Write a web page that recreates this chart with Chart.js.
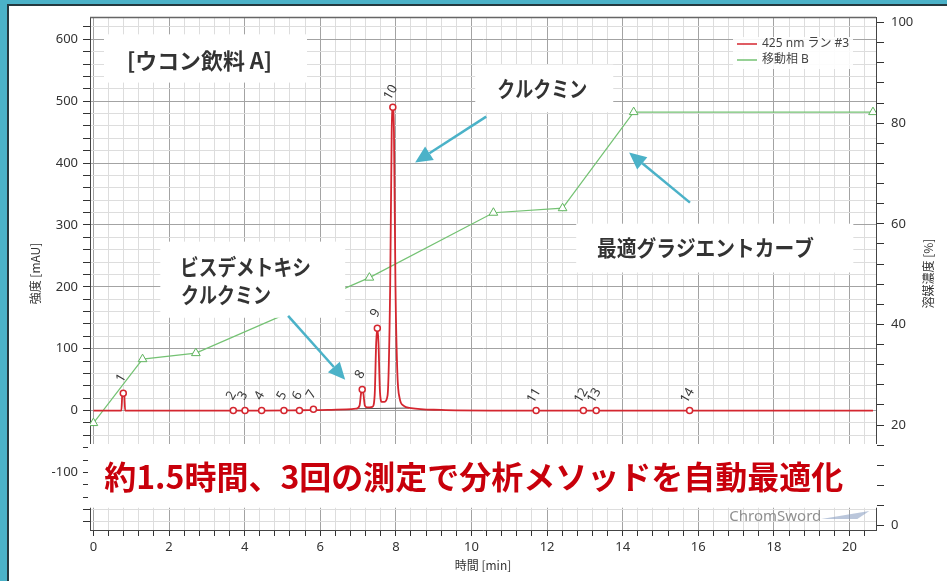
<!DOCTYPE html>
<html>
<head>
<meta charset="utf-8">
<script src="https://cdn.jsdelivr.net/npm/chart.js@4.4.1/dist/chart.umd.min.js"></script>
<style>
  html, body { margin: 0; padding: 0; background: #fff; }
  #wrap { width: 947px; height: 581px; }
</style>
</head>
<body>
<div id="wrap"><canvas id="chromatogram" width="947" height="581"></canvas></div>
<script>
// 425 nm trace (min / mAU)
const traceTime   = [0, 0.40, 0.74, 0.765, 0.79, 0.815, 0.84, 2.0, 3.7, 4.5, 5.5, 6.2, 6.7, 6.95,
                     7.04, 7.08, 7.11, 7.14, 7.18, 7.24, 7.38, 7.44, 7.48, 7.51, 7.54, 7.58, 7.63,
                     7.70, 7.78, 7.85, 7.89, 7.92, 7.95, 7.99, 8.04, 8.10, 8.20, 8.40, 9.20, 10.5, 20.62];
const traceSignal = [0, 0, 0, 26, 28, 26, 0, 0, 0, 0, 0.5, 1, 2, 3,
                     8, 28, 34, 28, 8, 5, 6, 25, 110, 133, 110, 30, 14,
                     14, 24, 200, 450, 490, 450, 200, 60, 20, 8, 4, 1, 0, 0];

// integration baseline under peaks 8-10
const baseTime   = [6.95, 8.35];
const baseSignal = [3, 4];

// detected peaks
const peakNames   = ['1', '2', '3', '4', '5', '6', '7', '8', '9', '10', '11', '12', '13', '14'];
const peakTimes   = [0.79, 3.70, 4.01, 4.45, 5.04, 5.45, 5.82, 7.11, 7.51, 7.92, 11.71, 12.96, 13.30, 15.77];
const peakHeights = [28, 0, 0, 0, 0, 0, 2, 34, 133, 490, 0, 0, 0, 0];

// mobile phase B gradient (min / %)
const gradTime    = [0, 1.30, 2.71, 7.30, 10.58, 12.41, 14.29, 20.62];
const gradPercent = [20.4, 33.1, 34.3, 49.3, 62.2, 63.1, 82.2, 82.2];

const RED = '#d4262f';
const GREEN = '#74c273';
const TEAL = '#4bb2c8';
const JP = "'Noto Sans CJK JP', 'Noto Sans', sans-serif";

// callout boxes and texts, anchored in data units (min, mAU)
const noteBoxes = [
  [0.28, 5.65, 608, 530],
  [10.10, 13.75, 559, 482],
  [1.77, 6.66, 273, 150],
  [12.77, 20.10, 302, 223]
];
const noteTexts = [
  ['[ウコン飲料 A]', 0.89, 566, 145],
  ['クルクミン', 10.68, 520, 90],
  ['ビスデメトキシ', 2.29, 232, 131],
  ['クルクミン', 2.32, 188, 90],
  ['最適グラジエントカーブ', 13.32, 263, 217]
];
const noteArrows = [
  [10.39, 475, 8.51, 401],
  [15.78, 336, 14.17, 417],
  [5.15, 153, 6.66, 50]
];

function isMultiple(v, step) {
  return Math.abs(v / step - Math.round(v / step)) < 1e-6;
}

function stepTicks(from, to, step) {
  const out = [];
  for (let k = 0; from + k * step <= to + 1e-9; k++) {
    out.push({ value: Math.round((from + k * step) * 1000) / 1000 });
  }
  return out;
}

function drawArrow(ctx, x1, y1, x2, y2) {
  const ang = Math.atan2(y2 - y1, x2 - x1);
  const head = 17, half = 8;
  const bx = x2 - head * Math.cos(ang), by = y2 - head * Math.sin(ang);
  ctx.strokeStyle = TEAL;
  ctx.fillStyle = TEAL;
  ctx.lineWidth = 2.5;
  ctx.beginPath();
  ctx.moveTo(x1, y1);
  ctx.lineTo(bx, by);
  ctx.stroke();
  ctx.beginPath();
  ctx.moveTo(x2, y2);
  ctx.lineTo(bx + half * Math.sin(ang), by - half * Math.cos(ang));
  ctx.lineTo(bx - half * Math.sin(ang), by + half * Math.cos(ang));
  ctx.closePath();
  ctx.fill();
}

const decorations = {
  id: 'decorations',
  beforeDraw(chart) {
    const ctx = chart.ctx;
    ctx.save();
    ctx.fillStyle = '#fff';
    ctx.fillRect(0, 0, chart.width, chart.height);
    ctx.fillStyle = TEAL;
    ctx.fillRect(0, 0, chart.width, 4);
    ctx.fillRect(0, 0, 7, chart.height);
    ctx.fillStyle = '#25393f';
    ctx.fillRect(7, 4, chart.width - 7, 2);
    ctx.fillRect(7, 4, 2, chart.height - 4);
    ctx.restore();
  },
  afterDatasetsDraw(chart) {
    // rotated peak numbers
    const ctx = chart.ctx;
    const xs = chart.scales.x, ys = chart.scales.y;
    ctx.save();
    ctx.font = "13px 'Noto Sans', sans-serif";
    ctx.fillStyle = '#3a3a3a';
    ctx.textAlign = 'center';
    ctx.textBaseline = 'middle';
    peakNames.forEach((name, i) => {
      const px = xs.getPixelForValue(peakTimes[i]) - 2;
      const py = ys.getPixelForValue(peakHeights[i]) - 15;
      ctx.save();
      ctx.translate(px, py);
      ctx.rotate(-Math.PI / 3);
      ctx.fillText(name, 0, 0);
      ctx.restore();
    });
    ctx.restore();
  },
  afterDraw(chart) {
    const ctx = chart.ctx;
    const area = chart.chartArea;
    const xs = chart.scales.x, ys = chart.scales.y;
    ctx.save();

    // top frame line
    ctx.strokeStyle = '#666';
    ctx.lineWidth = 1.5;
    ctx.beginPath();
    ctx.moveTo(area.left, area.top + 0.5);
    ctx.lineTo(area.right, area.top + 0.5);
    ctx.stroke();

    // legend
    const lx = area.right - 143, ly = area.top + 20;
    ctx.fillStyle = 'rgba(255,255,255,0.9)';
    ctx.fillRect(lx, ly, 120, 32);
    ctx.font = "12px 'Noto Sans', " + JP;
    ctx.textBaseline = 'middle';
    ctx.textAlign = 'left';
    chart.data.datasets.filter(d => d.inLegend).forEach((d, i) => {
      const y = ly + 7 + i * 16;
      ctx.strokeStyle = d.borderColor;
      ctx.lineWidth = 1.5;
      ctx.beginPath();
      ctx.moveTo(lx + 4, y);
      ctx.lineTo(lx + 24, y);
      ctx.stroke();
      ctx.fillStyle = '#444';
      ctx.fillText(d.label, lx + 29, y);
    });

    // axis titles
    ctx.fillStyle = '#333';
    ctx.font = "12px " + JP;
    ctx.textAlign = 'center';
    ctx.fillText('時間 [min]', (area.left + area.right) / 2, 565);
    const midY = (area.top + area.bottom) / 2;
    [[35, '強度 [mAU]'], [928, '溶媒濃度 [%]']].forEach(([tx, t]) => {
      ctx.save();
      ctx.translate(tx, midY);
      ctx.rotate(-Math.PI / 2);
      ctx.fillText(t, 0, 0);
      ctx.restore();
    });

    // logo watermark
    ctx.textAlign = 'left';
    ctx.fillStyle = '#8f8f8f';
    ctx.font = "15px 'Noto Sans', sans-serif";
    const gx = xs.getPixelForValue(16.82), gy = ys.getPixelForValue(-172);
    ctx.fillText('ChromSword', gx, gy, 92);
    ctx.fillStyle = 'rgba(140,160,195,0.6)';
    ctx.beginPath();
    ctx.moveTo(gx + 92, gy + 2);
    ctx.lineTo(gx + 140, gy - 6);
    ctx.lineTo(gx + 128, gy + 2);
    ctx.closePath();
    ctx.fill();

    // callout boxes
    ctx.fillStyle = '#fff';
    noteBoxes.forEach(([x0, x1, y0, y1]) => {
      const px0 = xs.getPixelForValue(x0), px1 = xs.getPixelForValue(x1);
      const py0 = ys.getPixelForValue(y0), py1 = ys.getPixelForValue(y1);
      ctx.fillRect(px0, py0, px1 - px0, py1 - py0);
    });
    ctx.fillStyle = '#333';
    ctx.font = "bold 22px " + JP;
    ctx.textAlign = 'left';
    noteTexts.forEach(([t, x, y, w]) => {
      ctx.fillText(t, xs.getPixelForValue(x), ys.getPixelForValue(y), w);
    });

    // red banner across the lower part
    const by0 = ys.getPixelForValue(-54), by1 = ys.getPixelForValue(-157);
    ctx.fillStyle = '#fff';
    ctx.fillRect(area.left - 2, by0, area.right - area.left + 3, by1 - by0);
    ctx.fillStyle = '#c8000b';
    ctx.font = "bold 32px " + JP;
    ctx.textAlign = 'center';
    ctx.fillText('約1.5時間、3回の測定で分析メソッドを自動最適化',
      xs.getPixelForValue(10.06), ys.getPixelForValue(-107), 748);

    // arrows
    noteArrows.forEach(([x1, y1, x2, y2]) => {
      drawArrow(ctx, xs.getPixelForValue(x1), ys.getPixelForValue(y1),
        xs.getPixelForValue(x2), ys.getPixelForValue(y2));
    });
    ctx.restore();
  }
};

const tickFont = { family: "'Noto Sans', sans-serif", size: 13 };

new Chart(document.getElementById('chromatogram').getContext('2d'), {
  type: 'line',
  data: {
    datasets: [
      {
        label: '425 nm ラン #3',
        inLegend: true,
        data: traceTime.map((t, i) => ({ x: t, y: traceSignal[i] })),
        borderColor: RED,
        borderWidth: 1.8,
        pointRadius: 0,
        cubicInterpolationMode: 'monotone',
        yAxisID: 'y',
        order: 1
      },
      {
        label: 'baseline',
        data: baseTime.map((t, i) => ({ x: t, y: baseSignal[i] })),
        borderColor: '#555',
        borderWidth: 1,
        pointRadius: 0,
        yAxisID: 'y',
        order: 2
      },
      {
        label: 'peaks',
        data: peakTimes.map((t, i) => ({ x: t, y: peakHeights[i] })),
        showLine: false,
        pointStyle: 'circle',
        pointRadius: 3,
        pointBorderWidth: 1.5,
        pointBorderColor: RED,
        pointBackgroundColor: '#fff',
        yAxisID: 'y',
        order: 0
      },
      {
        label: '移動相 B',
        inLegend: true,
        data: gradTime.map((t, i) => ({ x: t, y: gradPercent[i] })),
        borderColor: GREEN,
        borderWidth: 1.2,
        pointStyle: 'triangle',
        pointRadius: 5,
        pointBorderWidth: 1,
        pointBorderColor: '#5fb35e',
        pointBackgroundColor: '#fff',
        yAxisID: 'y2',
        order: 3
      }
    ]
  },
  options: {
    responsive: false,
    animation: false,
    layout: { padding: { top: 17, left: 0, right: 0, bottom: 0 } },
    plugins: { legend: { display: false }, tooltip: { enabled: false } },
    scales: {
      x: {
        type: 'linear',
        min: -0.09,
        max: 20.7,
        afterBuildTicks: s => { s.ticks = stepTicks(0, 20.4, 0.4); },
        afterFit: s => { s.height = 51; },
        ticks: {
          autoSkip: false,
          maxRotation: 0,
          padding: 3,
          color: '#333',
          font: tickFont,
          callback: v => isMultiple(v, 2) ? String(v) : ''
        },
        grid: {
          color: c => isMultiple(c.tick.value, 2) ? '#a3a3a3' : '#dddddd',
          tickColor: '#333',
          tickLength: 6
        },
        border: { color: '#444' }
      },
      y: {
        position: 'left',
        min: -193,
        max: 636,
        afterBuildTicks: s => { s.ticks = stepTicks(-180, 620, 20); },
        afterFit: s => { s.width = 90; },
        ticks: {
          autoSkip: false,
          padding: 5,
          color: '#333',
          font: tickFont,
          callback: v => isMultiple(v, 100) ? String(v) : ''
        },
        grid: {
          color: c => isMultiple(c.tick.value, 100) ? '#a3a3a3' : '#dddddd',
          tickColor: '#333',
          tickLength: 7
        },
        border: { color: '#444' }
      },
      y2: {
        position: 'right',
        min: -0.85,
        max: 101.1,
        afterBuildTicks: s => { s.ticks = stepTicks(0, 100, 4); },
        afterFit: s => { s.width = 71; },
        ticks: {
          autoSkip: false,
          padding: 7,
          color: '#333',
          font: tickFont,
          callback: v => isMultiple(v, 20) ? String(v) : ''
        },
        grid: { drawOnChartArea: false, tickColor: '#333', tickLength: 8 },
        border: { color: '#444' }
      }
    }
  },
  plugins: [decorations]
});
</script>
</body>
</html>
